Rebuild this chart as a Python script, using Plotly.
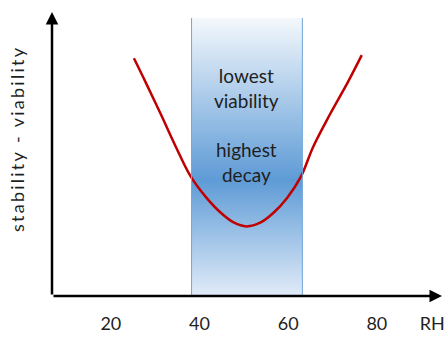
import plotly.graph_objects as go

# ---- data ----
curve_rh = [25.2, 27.8, 31.3, 34.7, 38.0, 41.4, 44.8, 47.7, 50.6, 53.8, 56.7, 59.8, 62.9, 65.6, 69.4, 73.5, 76.6]
curve_val = [83.7, 75.4, 63.9, 52.4, 42.1, 34.9, 29.3, 25.9, 24.5, 25.9, 29.3, 34.6, 42.1, 52.4, 63.9, 75.4, 84.8]
band_rh = [38.2, 63.2]
band_top = 97.9
tick_vals = [20, 40, 60, 80, 92.5]
tick_text = ["20", "40", "60", "80", "RH"]
band_text_lines = ["lowest", "viability", "", "highest", "decay"]
y_label = "stability - viability"

X_RANGE = [6.72, 94.7]
Y_RANGE = [0, 100]
FONT = "Lato"
TXT = "#1f1f1f"

fig = go.Figure()

# gradient band
fig.add_trace(go.Scatter(
    x=[band_rh[0], band_rh[1], band_rh[1], band_rh[0], band_rh[0]],
    y=[0, 0, band_top, band_top, 0],
    mode="lines", line=dict(width=0), fill="toself",
    fillgradient=dict(
        type="vertical", start=0, stop=band_top,
        colorscale=[[0, "#e8f0fa"], [0.43, "#5e9bd6"], [1, "#f4f8fc"]],
    ),
    hoverinfo="skip", showlegend=False,
))

# band side lines
for bx in band_rh:
    fig.add_shape(type="line", x0=bx, x1=bx, y0=0, y1=band_top,
                  xref="x", yref="y", line=dict(color="#6fa6dc", width=1))

# red curve
fig.add_trace(go.Scatter(
    x=curve_rh, y=curve_val, mode="lines",
    line=dict(color="#c00000", width=2.5, shape="spline", smoothing=1.0),
    hoverinfo="skip", showlegend=False,
))

# axes arrows
fig.add_annotation(x=X_RANGE[1], y=0, ax=X_RANGE[0], ay=0, xref="x", yref="y",
                   axref="x", ayref="y", text="", showarrow=True,
                   arrowhead=2, arrowsize=1, arrowwidth=2.5, arrowcolor="black")
fig.add_annotation(x=X_RANGE[0], y=Y_RANGE[1], ax=X_RANGE[0], ay=0, xref="x", yref="y",
                   axref="x", ayref="y", text="", showarrow=True,
                   arrowhead=2, arrowsize=1, arrowwidth=2.5, arrowcolor="black")

# band text
fig.add_annotation(x=sum(band_rh) / 2, y=(302 - 127) / 2.9, xref="x", yref="y",
                   text="<br>".join(band_text_lines), showarrow=False,
                   font=dict(family=FONT, size=19, color=TXT), align="center")

# y label (letter spaced)
fig.add_annotation(x=-35 / 393, y=0.55, xref="paper", yref="paper",
                   text="\u2009".join(y_label), textangle=-90, showarrow=False,
                   font=dict(family=FONT, size=18, color=TXT),
                   xanchor="center", yanchor="middle")

fig.update_layout(
    width=448, height=337,
    margin=dict(l=52, r=3, t=12, b=35),
    paper_bgcolor="white", plot_bgcolor="white",
    xaxis=dict(range=X_RANGE, showgrid=False, zeroline=False, showline=False,
               tickvals=tick_vals, ticktext=tick_text, ticks="",
               ticklabelstandoff=15,
               tickfont=dict(family=FONT, size=18, color=TXT), fixedrange=True),
    yaxis=dict(range=Y_RANGE, showgrid=False, zeroline=False, showline=False,
               showticklabels=False, ticks="", fixedrange=True),
)

fig.write_html("out.html", config={"displayModeBar": False},
               post_script="document.body.style.margin='0px';document.body.style.overflow='hidden';")
